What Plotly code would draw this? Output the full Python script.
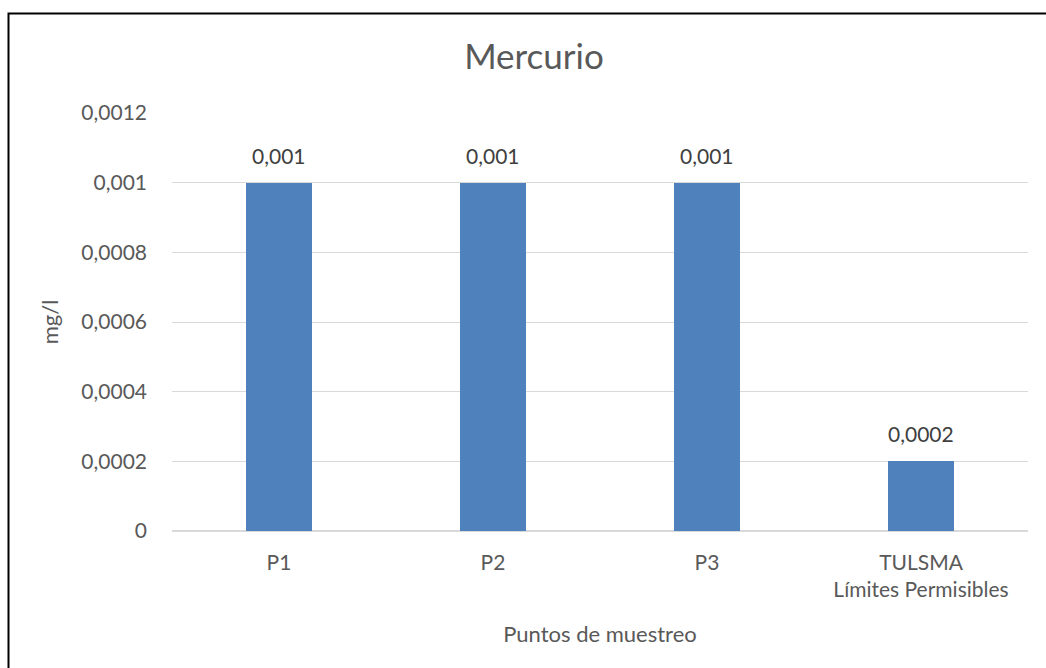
import plotly.graph_objects as go

categories = ["P1", "P2", "P3", "TULSMA<br>Límites Permisibles"]
values = [0.001, 0.001, 0.001, 0.0002]
value_labels = ["0,001", "0,001", "0,001", "0,0002"]
y_ticks = [0, 0.0002, 0.0004, 0.0006, 0.0008, 0.001, 0.0012]
y_ticklabels = ["0", "0,0002", "0,0004", "0,0006", "0,0008", "0,001", "0,0012"]

FONT = "Lato"
GREY = "#595959"
W, H = 1046, 668
L, R, T, B = 172, 18, 113, 137
pw, ph = W - L - R, H - T - B

fig = go.Figure()
fig.add_trace(go.Bar(
    x=categories, y=values,
    marker=dict(color="#4f81bd", line=dict(width=0)),
    width=0.313,
))

# data labels above bars
for c, v, t in zip(categories, values, value_labels):
    fig.add_annotation(x=c, y=v, text=t, showarrow=False, xanchor="center", yanchor="bottom",
                       yshift=13, font=dict(family=FONT, size=21, color="#404040"))

fig.update_layout(
    width=W, height=H,
    margin=dict(l=L, r=R, t=T, b=B),
    paper_bgcolor="white", plot_bgcolor="white",
    showlegend=False,
    font=dict(family=FONT, color=GREY, size=21),
    title=dict(text="Mercurio", x=534 / W, xref="container", xanchor="center",
               y=1 - 57 / H, yanchor="middle", yref="container",
               font=dict(family=FONT, size=35, color=GREY)),
    bargap=0,
)
fig.update_xaxes(
    showgrid=False, showline=False, zeroline=False, ticks="", ticklabelstandoff=17,
    tickfont=dict(family=FONT, size=21, color=GREY),
    title=dict(text="Puntos de muestreo", font=dict(family=FONT, size=22, color=GREY), standoff=26),
)
fig.update_yaxes(
    range=[0, 0.0012], tickvals=y_ticks, ticktext=y_ticklabels,
    showgrid=True, gridcolor="#d9d9d9", gridwidth=1, zeroline=True, zerolinecolor="#d9d9d9",
    showline=False, ticks="", ticklabelstandoff=24,
    tickfont=dict(family=FONT, size=21, color=GREY),
    title=dict(text="mg/l", font=dict(family=FONT, size=22, color=GREY), standoff=16),
)

# outer frame (partially cropped by the page edges)
fig.add_shape(type="rect", xref="paper", yref="paper",
              x0=(8.5 - L) / pw, x1=(W + 20 - L) / pw,
              y0=(H - B - (H + 20)) / ph, y1=(H - B - 13.5) / ph,
              line=dict(color="black", width=2), fillcolor="rgba(0,0,0,0)", layer="above")

# caption above the frame, cropped by the top edge as in the source
fig.add_annotation(text="<b>Gráfico 15:</b>", xref="paper", yref="paper",
                   x=(15 - L) / pw, y=(H - B - 5) / ph, xanchor="left", yanchor="bottom",
                   showarrow=False, font=dict(family="Liberation Serif", size=26, color="black"))

fig.write_html("out.html")
